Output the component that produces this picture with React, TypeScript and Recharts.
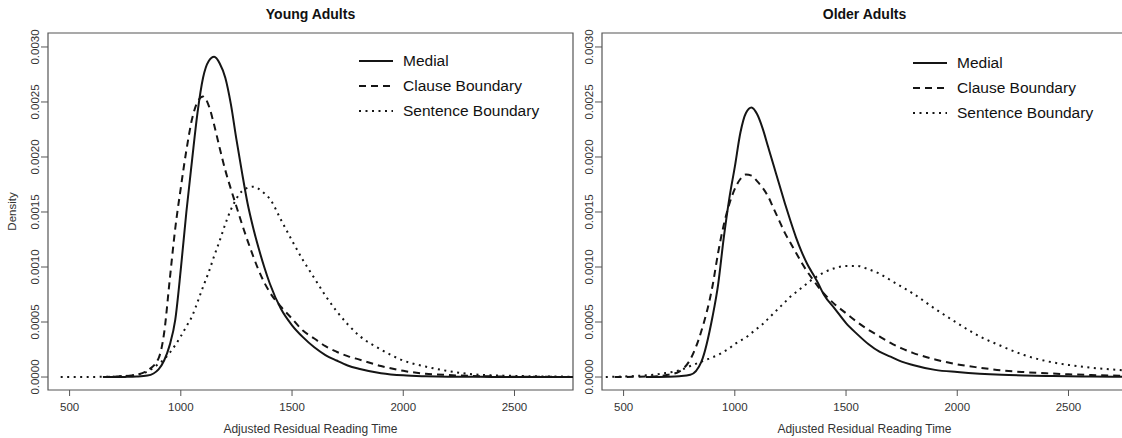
import { LineChart, Line, XAxis, YAxis, ReferenceArea, Legend } from 'recharts'

// x grid shared by every curve (adjusted residual reading time)
const readingTime = [
  420, 460, 500, 550, 600, 650, 700, 750, 800, 850, 900, 925, 950, 975, 1000, 1025, 1050, 1075, 1100, 1125,
  1150, 1175, 1200, 1225, 1250, 1275, 1300, 1325, 1350, 1375, 1400, 1450, 1500, 1550, 1600, 1650, 1700, 1750, 1800,
  1900, 2000, 2100, 2200, 2300, 2400, 2500, 2600, 2700, 2800,
]

const youngMedial = [
  null, null, null, null, null, 0, 0, 0.000001, 0.000004, 0.000013, 0.00007, 0.00015, 0.00029, 0.00052, 0.00098,
  0.0015, 0.00196, 0.0024, 0.00272, 0.00287, 0.00291, 0.00285, 0.00272, 0.00248, 0.00216, 0.00186, 0.00158, 0.00136,
  0.00117, 0.001, 0.00085, 0.00062, 0.00047, 0.00036, 0.00027, 0.0002, 0.00015, 0.000105, 0.000075, 0.000035,
  0.000015, 0.000007, 0.000003, 0.000002, 0.000001, 0.000001, 0, 0, 0,
]
const youngClause = [
  null, null, null, null, null, 0, 0.000003, 0.000008, 0.00002, 0.00006, 0.00017, 0.0004, 0.00088, 0.00135, 0.00172,
  0.00206, 0.00234, 0.0025, 0.00255, 0.00247, 0.00229, 0.00208, 0.00188, 0.00171, 0.00155, 0.00139, 0.00124, 0.0011,
  0.00097, 0.00086, 0.00077, 0.00064, 0.00053, 0.00042, 0.00035, 0.00028, 0.00023, 0.00019, 0.00016, 0.0001,
  0.000056, 0.00003, 0.000018, 0.00001, 0.000006, 0.000003, 0.000002, 0.000001, 0,
]
const youngSentence = [
  null, 0, 0, 0, 0.000001, 0.000002, 0.000004, 0.00001, 0.00002, 0.00005, 0.00012, 0.00016, 0.00022, 0.00029, 0.00037,
  0.00046, 0.00055, 0.00068, 0.00082, 0.00095, 0.0011, 0.00124, 0.00139, 0.00152, 0.00162, 0.00169, 0.00172, 0.00173,
  0.00171, 0.00167, 0.00162, 0.00143, 0.00124, 0.00106, 0.0009, 0.00074, 0.0006, 0.00048, 0.00038, 0.00025, 0.00015,
  0.000095, 0.000055, 0.000027, 0.000016, 0.00001, 0.000006, 0.000004, 0.000002,
]

const olderMedial = [
  null, null, null, null, 0, 0.000001, 0.000003, 0.000008, 0.00002, 0.00014, 0.00055, 0.00084, 0.00126, 0.00162,
  0.00191, 0.00222, 0.0024, 0.00245, 0.00239, 0.00226, 0.00209, 0.00192, 0.00175, 0.00158, 0.00142, 0.00127, 0.00114,
  0.00103, 0.00094, 0.00085, 0.00075, 0.00062, 0.00049, 0.00039, 0.0003, 0.00023, 0.000185, 0.00014, 0.00011,
  0.000065, 0.000045, 0.00003, 0.00002, 0.000014, 0.00001, 0.000007, 0.000005, 0.000003, 0.000002,
]
const olderClause = [
  null, 0, 0.000001, 0.000002, 0.000004, 0.000008, 0.00002, 0.00005, 0.00016, 0.00042, 0.00083, 0.00113, 0.00138,
  0.00157, 0.00171, 0.0018, 0.00184, 0.00183, 0.00178, 0.00172, 0.00164, 0.00153, 0.00142, 0.00131, 0.00122, 0.00113,
  0.00104, 0.00096, 0.00089, 0.00082, 0.00076, 0.00066, 0.00058, 0.0005, 0.00043, 0.00037, 0.00031, 0.00026, 0.00022,
  0.00016, 0.000115, 0.000085, 0.00006, 0.000045, 0.000034, 0.000025, 0.000018, 0.000013, 0.00001,
]
const olderSentence = [
  0, 0.000002, 0.000005, 0.000009, 0.000015, 0.000025, 0.00004, 0.00006, 0.0001, 0.00014, 0.00018, 0.0002, 0.00023,
  0.00026, 0.0003, 0.00033, 0.00036, 0.0004, 0.00044, 0.00048, 0.00053, 0.00058, 0.00063, 0.00068, 0.00073, 0.00077,
  0.00081, 0.00085, 0.00089, 0.00092, 0.00095, 0.00099, 0.00101, 0.00101, 0.00098, 0.00094, 0.00088, 0.00082, 0.00076,
  0.00062, 0.00049, 0.00037, 0.00028, 0.0002, 0.000145, 0.00011, 0.000085, 0.000068, 0.000055,
]

const xTicks = [500, 1000, 1500, 2000, 2500]
const yTicks = [0, 0.0005, 0.001, 0.0015, 0.002, 0.0025, 0.003]
const X_DOMAIN = [403, 2763]
const Y_DOMAIN = [-0.000118, 0.003127]

const series = [
  { key: 'medial', name: 'Medial', dash: undefined },
  { key: 'clause', name: 'Clause Boundary', dash: '7 5' },
  { key: 'sentence', name: 'Sentence Boundary', dash: '2 4.5' },
]

const INK = '#151515'
const FONT = '"Liberation Sans", Arial, Helvetica, sans-serif'

const youngData = readingTime.map((x, i) => ({
  x, medial: youngMedial[i], clause: youngClause[i], sentence: youngSentence[i],
}))
const olderData = readingTime.map((x, i) => ({
  x, medial: olderMedial[i], clause: olderClause[i], sentence: olderSentence[i],
}))

function YTick({ x, y, payload }) {
  return (
    <text x={x} y={y} transform={`rotate(-90, ${x}, ${y})`} textAnchor="middle" dy="0.35em"
      fontSize={11.5} fill="#333">
      {Number(payload.value).toFixed(4)}
    </text>
  )
}

function LegendBox() {
  return (
    <div style={{ fontFamily: FONT }}>
      {series.map(s => (
        <div key={s.key} style={{ display: 'flex', alignItems: 'center', height: 25 }}>
          <svg width={34} height={6}>
            <line x1={0} y1={3} x2={34} y2={3} stroke={INK} strokeWidth={2} strokeDasharray={s.dash} />
          </svg>
          <span style={{ marginLeft: 10, fontSize: 15.5, color: '#111' }}>{s.name}</span>
        </div>
      ))}
    </div>
  )
}

function Panel({ data, title, left, legendTop, showYLabel }) {
  return (
    <div style={{ position: 'absolute', left, top: 0, width: 580, height: 438 }}>
      <div style={{ position: 'absolute', left: 48, width: 525, top: 6, textAlign: 'center',
        fontWeight: 'bold', fontSize: 14, lineHeight: '16px', color: '#111' }}>{title}</div>
      <LineChart width={580} height={438} data={data} margin={{ top: 33, right: 7, bottom: 0, left: 0 }}>
        <XAxis dataKey="x" type="number" domain={X_DOMAIN} ticks={xTicks} allowDataOverflow
          height={48} axisLine={false} tickSize={6} tickMargin={7} tickLine={{ stroke: '#555' }}
          tick={{ fontSize: 11.5, fill: '#333' }}
          label={{ value: 'Adjusted Residual Reading Time', position: 'insideBottom', offset: 5, fontSize: 12, fill: '#333' }} />
        <YAxis type="number" domain={Y_DOMAIN} ticks={yTicks} allowDataOverflow width={48}
          axisLine={false} tickSize={7} tickMargin={6} tickLine={{ stroke: '#555' }} tick={YTick}
          label={showYLabel ? {
            content: ({ viewBox }) => {
              const cy = viewBox.y + viewBox.height / 2
              return (
                <text x={12} y={cy} transform={`rotate(-90, 12, ${cy})`} textAnchor="middle" dy="0.35em"
                  fontSize={11.5} fill="#333">Density</text>
              )
            },
          } : undefined} />
        <ReferenceArea x1={X_DOMAIN[0]} x2={X_DOMAIN[1]} y1={Y_DOMAIN[0]} y2={Y_DOMAIN[1]}
          fill="none" stroke="#555" strokeWidth={1.2} ifOverflow="visible" />
        {series.map(s => (
          <Line key={s.key} dataKey={s.key} name={s.name} type="monotone" stroke={INK} strokeWidth={2}
            strokeDasharray={s.dash} dot={false} activeDot={false} isAnimationActive={false} />
        ))}
        <Legend layout="vertical" align="center" verticalAlign="middle"
          content={<LegendBox />}
          wrapperStyle={{ left: 359, top: legendTop, width: 215 }} />
      </LineChart>
    </div>
  )
}

export default function App() {
  return (
    <div style={{ position: 'fixed', left: 0, top: 0, width: 1122, height: 438, overflow: 'hidden',
      background: '#fff', fontFamily: FONT }}>
      <Panel data={youngData} title="Young Adults" left={0} legendTop={48} showYLabel />
      <Panel data={olderData} title="Older Adults" left={554} legendTop={50} showYLabel={false} />
    </div>
  )
}
